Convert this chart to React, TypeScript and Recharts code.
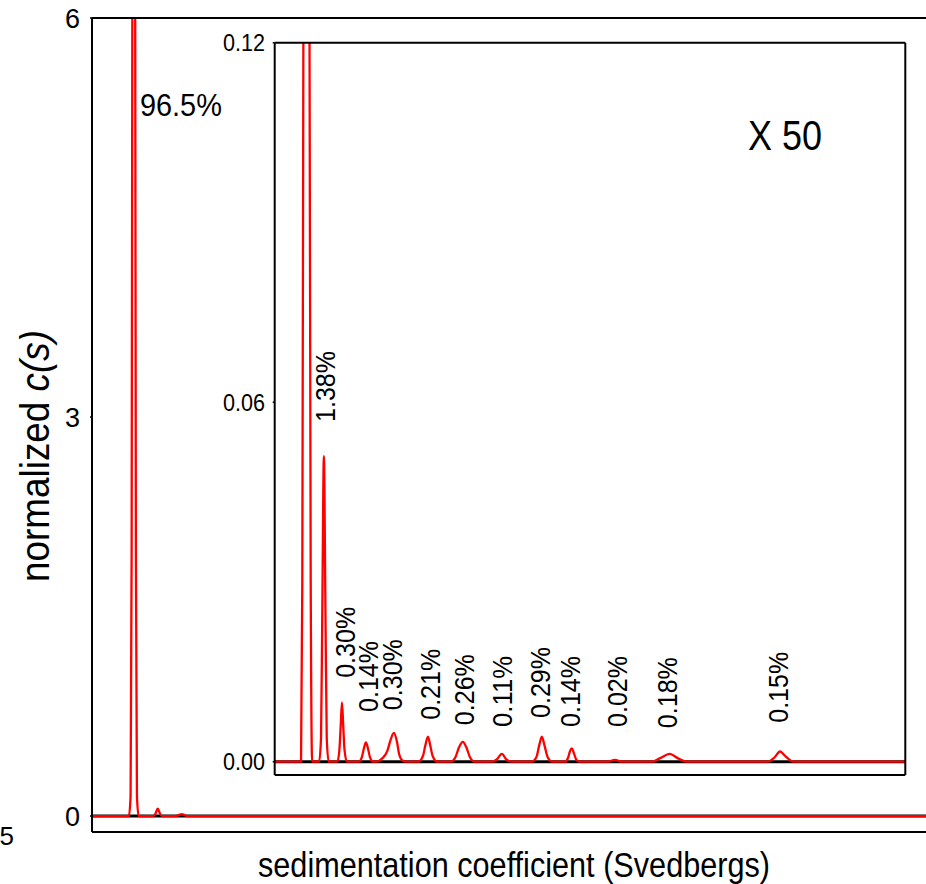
import React from 'react';
import { ComposedChart, Line, Scatter, XAxis, YAxis } from 'recharts';

const FONT = '"Liberation Sans", Arial, Helvetica, sans-serif';
const RED = '#ff0000';

// Full-range c(s) distribution: sedimentation coefficient (tick units) and normalized c(s)
const mainS = [0, 1.74, 1.82, 1.87, 1.91, 1.97, 2.03, 2.07, 2.12, 2.2, 2.9, 3.0, 3.1, 3.2, 3.3, 3.95, 4.1, 4.23, 4.36, 4.5, 40];
const mainC = [0, 0, 0.15, 2.0, 7.0, 9.5, 7.0, 2.0, 0.15, 0, 0, 0.02, 0.056, 0.02, 0, 0, 0.008, 0.015, 0.008, 0, 0];

// Magnified (x50) view of the minor species
const insetS = [
  0, 1.66, 1.74, 1.82, 1.98, 2.18, 2.27, 2.36,
  2.8, 2.92, 3.0, 3.1, 3.2, 3.28, 3.4,
  3.95, 4.08, 4.16, 4.24, 4.32, 4.4, 4.55,
  5.3, 5.5, 5.62, 5.75, 5.88, 6.0, 6.2,
  6.4, 6.8, 7.1, 7.3, 7.51, 7.7, 7.85, 8.05, 8.3,
  9.05, 9.35, 9.5, 9.66, 9.8, 9.95, 10.25,
  11.1, 11.4, 11.62, 11.86, 12.08, 12.3, 12.6,
  13.7, 14.0, 14.32, 14.6, 14.95,
  16.2, 16.5, 16.68, 16.84, 17.0, 17.2, 17.5,
  18.3, 18.5, 18.62, 18.73, 18.85, 19.0, 19.2,
  21.0, 21.44, 21.9,
  23.8, 24.3, 24.9, 25.4, 26.0,
  31.1, 31.5, 31.85, 32.2, 32.7,
  39.75,
];
const insetC = [
  0, 0, 0.03, 0.14, 0.3, 0.14, 0.03, 0,
  0, 0.004, 0.025, 0.051, 0.025, 0.004, 0,
  0, 0.002, 0.006, 0.0099, 0.006, 0.002, 0,
  0, 0.0008, 0.0022, 0.0032, 0.0022, 0.0008, 0,
  0, 0.0006, 0.0018, 0.0036, 0.0048, 0.0034, 0.0012, 0.0002, 0,
  0, 0.001, 0.0028, 0.0042, 0.0028, 0.001, 0,
  0, 0.0008, 0.0024, 0.0033, 0.0024, 0.0008, 0,
  0, 0.0004, 0.0013, 0.0004, 0,
  0, 0.0008, 0.0028, 0.0042, 0.0028, 0.0008, 0,
  0, 0.0007, 0.0018, 0.0022, 0.0015, 0.0004, 0,
  0, 0.0003, 0,
  0, 0.0006, 0.0013, 0.0006, 0,
  0, 0.0007, 0.0017, 0.0009, 0,
  0,
];

// Peak area percentages and where each one is written
const mainTagText = ['96.5%'];
const mainTagS = [2.26];
const mainTagC = [5.26];

const insetTagText = ['1.38%', '0.30%', '0.14%', '0.30%', '0.21%', '0.26%', '0.11%', '0.29%', '0.14%', '0.02%', '0.18%', '0.15%'];
const insetTagS = [3.8, 5.06, 6.51, 8.02, 10.42, 12.56, 14.95, 17.35, 19.24, 22.2, 25.35, 32.34];
const insetTagC = [0.0567, 0.014, 0.0083, 0.0086, 0.007, 0.0061, 0.0058, 0.0073, 0.0058, 0.0058, 0.0056, 0.0065];

// Axis ticks
const mainXTicks = [0, 1, 2, 3, 4, 5, 6, 7, 8, 9, 10, 11, 12, 13, 14, 15, 16, 17, 18, 19, 20, 21, 22, 23, 24, 25, 26, 27, 28, 29, 30, 31, 32, 33, 34, 35, 36, 37, 38, 39, 40];
const mainYTicks = [0, 3, 6];
const insetXTicks = [0, 1, 2, 3, 4, 5, 6, 7, 8, 9, 10, 11, 12, 13, 14, 15, 16, 17, 18, 19, 20, 21, 22, 23, 24, 25, 26, 27, 28, 29, 30, 31, 32, 33, 34, 35, 36, 37, 38, 39];
const insetYTicks = [0, 0.06, 0.12];

const mainDomainX: [number, number] = [0, 40];
const mainDomainY: [number, number] = [-0.12, 6];
const insetDomainX: [number, number] = [0, 39.75];
const insetDomainY: [number, number] = [-0.00222, 0.12];

const mainCurve = mainS.map((s, i) => ({ s, c: mainC[i] }));
const insetCurve = insetS.map((s, i) => ({ s, c: insetC[i] }));
const mainZero = [{ s: mainDomainX[0], c: 0 }, { s: mainDomainX[1], c: 0 }];
const insetZero = [{ s: insetDomainX[0], c: 0 }, { s: insetDomainX[1], c: 0 }];
const mainTags = mainTagText.map((t, i) => ({ t, s: mainTagS[i], c: mainTagC[i] }));
const insetTags = insetTagText.map((t, i) => ({ t, s: insetTagS[i], c: insetTagC[i] }));

const axisLine = { stroke: '#000', strokeWidth: 2 };
const tickLine = { stroke: '#000', strokeWidth: 1.5 };

// Narrow glyphs: text is squeezed to a set length
const squeeze = (len: number) => ({ textLength: len, lengthAdjust: 'spacingAndGlyphs' as const });

const MainYTick = (p: any) => (
  <text x={p.x} y={p.y} dy="0.36em" textAnchor="end" fontFamily={FONT} fontSize={27} fill="#000">
    {p.payload.value}
  </text>
);

const InsetYTick = (p: any) => (
  <text
    x={p.x}
    y={p.y}
    dy="0.36em"
    textAnchor="end"
    fontFamily={FONT}
    fontSize={24}
    fill="#000"
    {...squeeze(42)}
  >
    {Number(p.payload.value).toFixed(2)}
  </text>
);

const HorizontalTag = (p: any) => (
  <text x={p.cx} y={p.cy} fontFamily={FONT} fontSize={32} fill="#000" {...squeeze(82)}>
    {p.payload.t}
  </text>
);

const VerticalTag = (p: any) => (
  <text
    x={p.cx}
    y={p.cy}
    transform={`rotate(-90 ${p.cx} ${p.cy})`}
    fontFamily={FONT}
    fontSize={28}
    fill="#000"
    {...squeeze(71)}
  >
    {p.payload.t}
  </text>
);

export default function App() {
  return (
    <div
      style={{
        position: 'fixed',
        left: 0,
        top: 0,
        width: 926,
        height: 884,
        overflow: 'hidden',
        background: '#fff',
      }}
    >
      <div style={{ position: 'absolute', left: 0, top: 0 }}>
        <ComposedChart width={950} height={884} margin={{ top: 18, right: 10, bottom: 52, left: 32 }}>
          <XAxis
            xAxisId="b"
            type="number"
            dataKey="s"
            domain={mainDomainX}
            ticks={mainXTicks}
            allowDataOverflow
            mirror
            tick={false}
            tickSize={3}
            height={1}
            axisLine={axisLine}
            tickLine={tickLine}
          />
          <XAxis
            xAxisId="t"
            orientation="top"
            type="number"
            dataKey="s"
            domain={mainDomainX}
            ticks={mainXTicks}
            allowDataOverflow
            mirror
            tick={false}
            tickSize={3}
            height={1}
            axisLine={axisLine}
            tickLine={tickLine}
          />
          <YAxis
            yAxisId="l"
            type="number"
            domain={mainDomainY}
            ticks={mainYTicks}
            allowDataOverflow
            width={60}
            tickSize={2}
            tickMargin={10}
            axisLine={axisLine}
            tickLine={tickLine}
            tick={MainYTick}
          />
          <Line
            data={mainZero}
            dataKey="c"
            xAxisId="b"
            yAxisId="l"
            stroke="#000"
            strokeWidth={3}
            dot={false}
            isAnimationActive={false}
          />
          <Line
            data={mainCurve}
            dataKey="c"
            xAxisId="b"
            yAxisId="l"
            type="monotone"
            stroke={RED}
            strokeWidth={2.3}
            dot={false}
            isAnimationActive={false}
          />
          <Scatter
            data={mainTags}
            dataKey="c"
            xAxisId="b"
            yAxisId="l"
            shape={HorizontalTag}
            isAnimationActive={false}
          />
        </ComposedChart>
      </div>

      <div style={{ position: 'absolute', left: 200, top: 20 }}>
        <ComposedChart width={720.3} height={770} margin={{ top: 22.7, right: 15, bottom: 15, left: 14.7 }}>
          <XAxis
            xAxisId="b"
            type="number"
            dataKey="s"
            domain={insetDomainX}
            ticks={insetXTicks}
            allowDataOverflow
            mirror
            tick={false}
            tickSize={3}
            height={1}
            axisLine={axisLine}
            tickLine={tickLine}
          />
          <XAxis
            xAxisId="t"
            orientation="top"
            type="number"
            dataKey="s"
            domain={insetDomainX}
            ticks={insetXTicks}
            allowDataOverflow
            mirror
            tick={false}
            tickSize={3}
            height={1}
            axisLine={axisLine}
            tickLine={tickLine}
          />
          <YAxis
            yAxisId="l"
            type="number"
            domain={insetDomainY}
            ticks={insetYTicks}
            allowDataOverflow
            width={60}
            tickSize={2}
            tickMargin={7.7}
            axisLine={axisLine}
            tickLine={tickLine}
            tick={InsetYTick}
          />
          <YAxis
            yAxisId="r"
            orientation="right"
            type="number"
            domain={insetDomainY}
            ticks={insetYTicks}
            allowDataOverflow
            mirror
            width={1}
            tick={false}
            tickSize={2}
            axisLine={axisLine}
            tickLine={tickLine}
          />
          <Line
            data={insetZero}
            dataKey="c"
            xAxisId="b"
            yAxisId="l"
            stroke="#000"
            strokeWidth={3}
            dot={false}
            isAnimationActive={false}
          />
          <Line
            data={insetCurve}
            dataKey="c"
            xAxisId="b"
            yAxisId="l"
            type="monotone"
            stroke={RED}
            strokeWidth={2.3}
            dot={false}
            isAnimationActive={false}
          />
          <Scatter
            data={insetTags}
            dataKey="c"
            xAxisId="b"
            yAxisId="l"
            shape={VerticalTag}
            isAnimationActive={false}
          />
        </ComposedChart>
      </div>

      <svg
        width={926}
        height={884}
        style={{ position: 'absolute', left: 0, top: 0, pointerEvents: 'none' }}
      >
        <text
          x={49}
          y={456}
          transform="rotate(-90 49 456)"
          textAnchor="middle"
          fontFamily={FONT}
          fontSize={40}
          fill="#000"
          {...squeeze(252)}
        >
          normalized <tspan fontStyle="italic">c(s)</tspan>
        </text>
        <text
          x={514}
          y={877}
          textAnchor="middle"
          fontFamily={FONT}
          fontSize={35}
          fill="#000"
          {...squeeze(512)}
        >
          sedimentation coefficient (Svedbergs)
        </text>
        <text x={748} y={150} fontFamily={FONT} fontSize={43} fill="#000" {...squeeze(74)}>
          X 50
        </text>
        <text x={14} y={845} textAnchor="end" fontFamily={FONT} fontSize={26} fill="#000">
          5
        </text>
      </svg>
    </div>
  );
}
